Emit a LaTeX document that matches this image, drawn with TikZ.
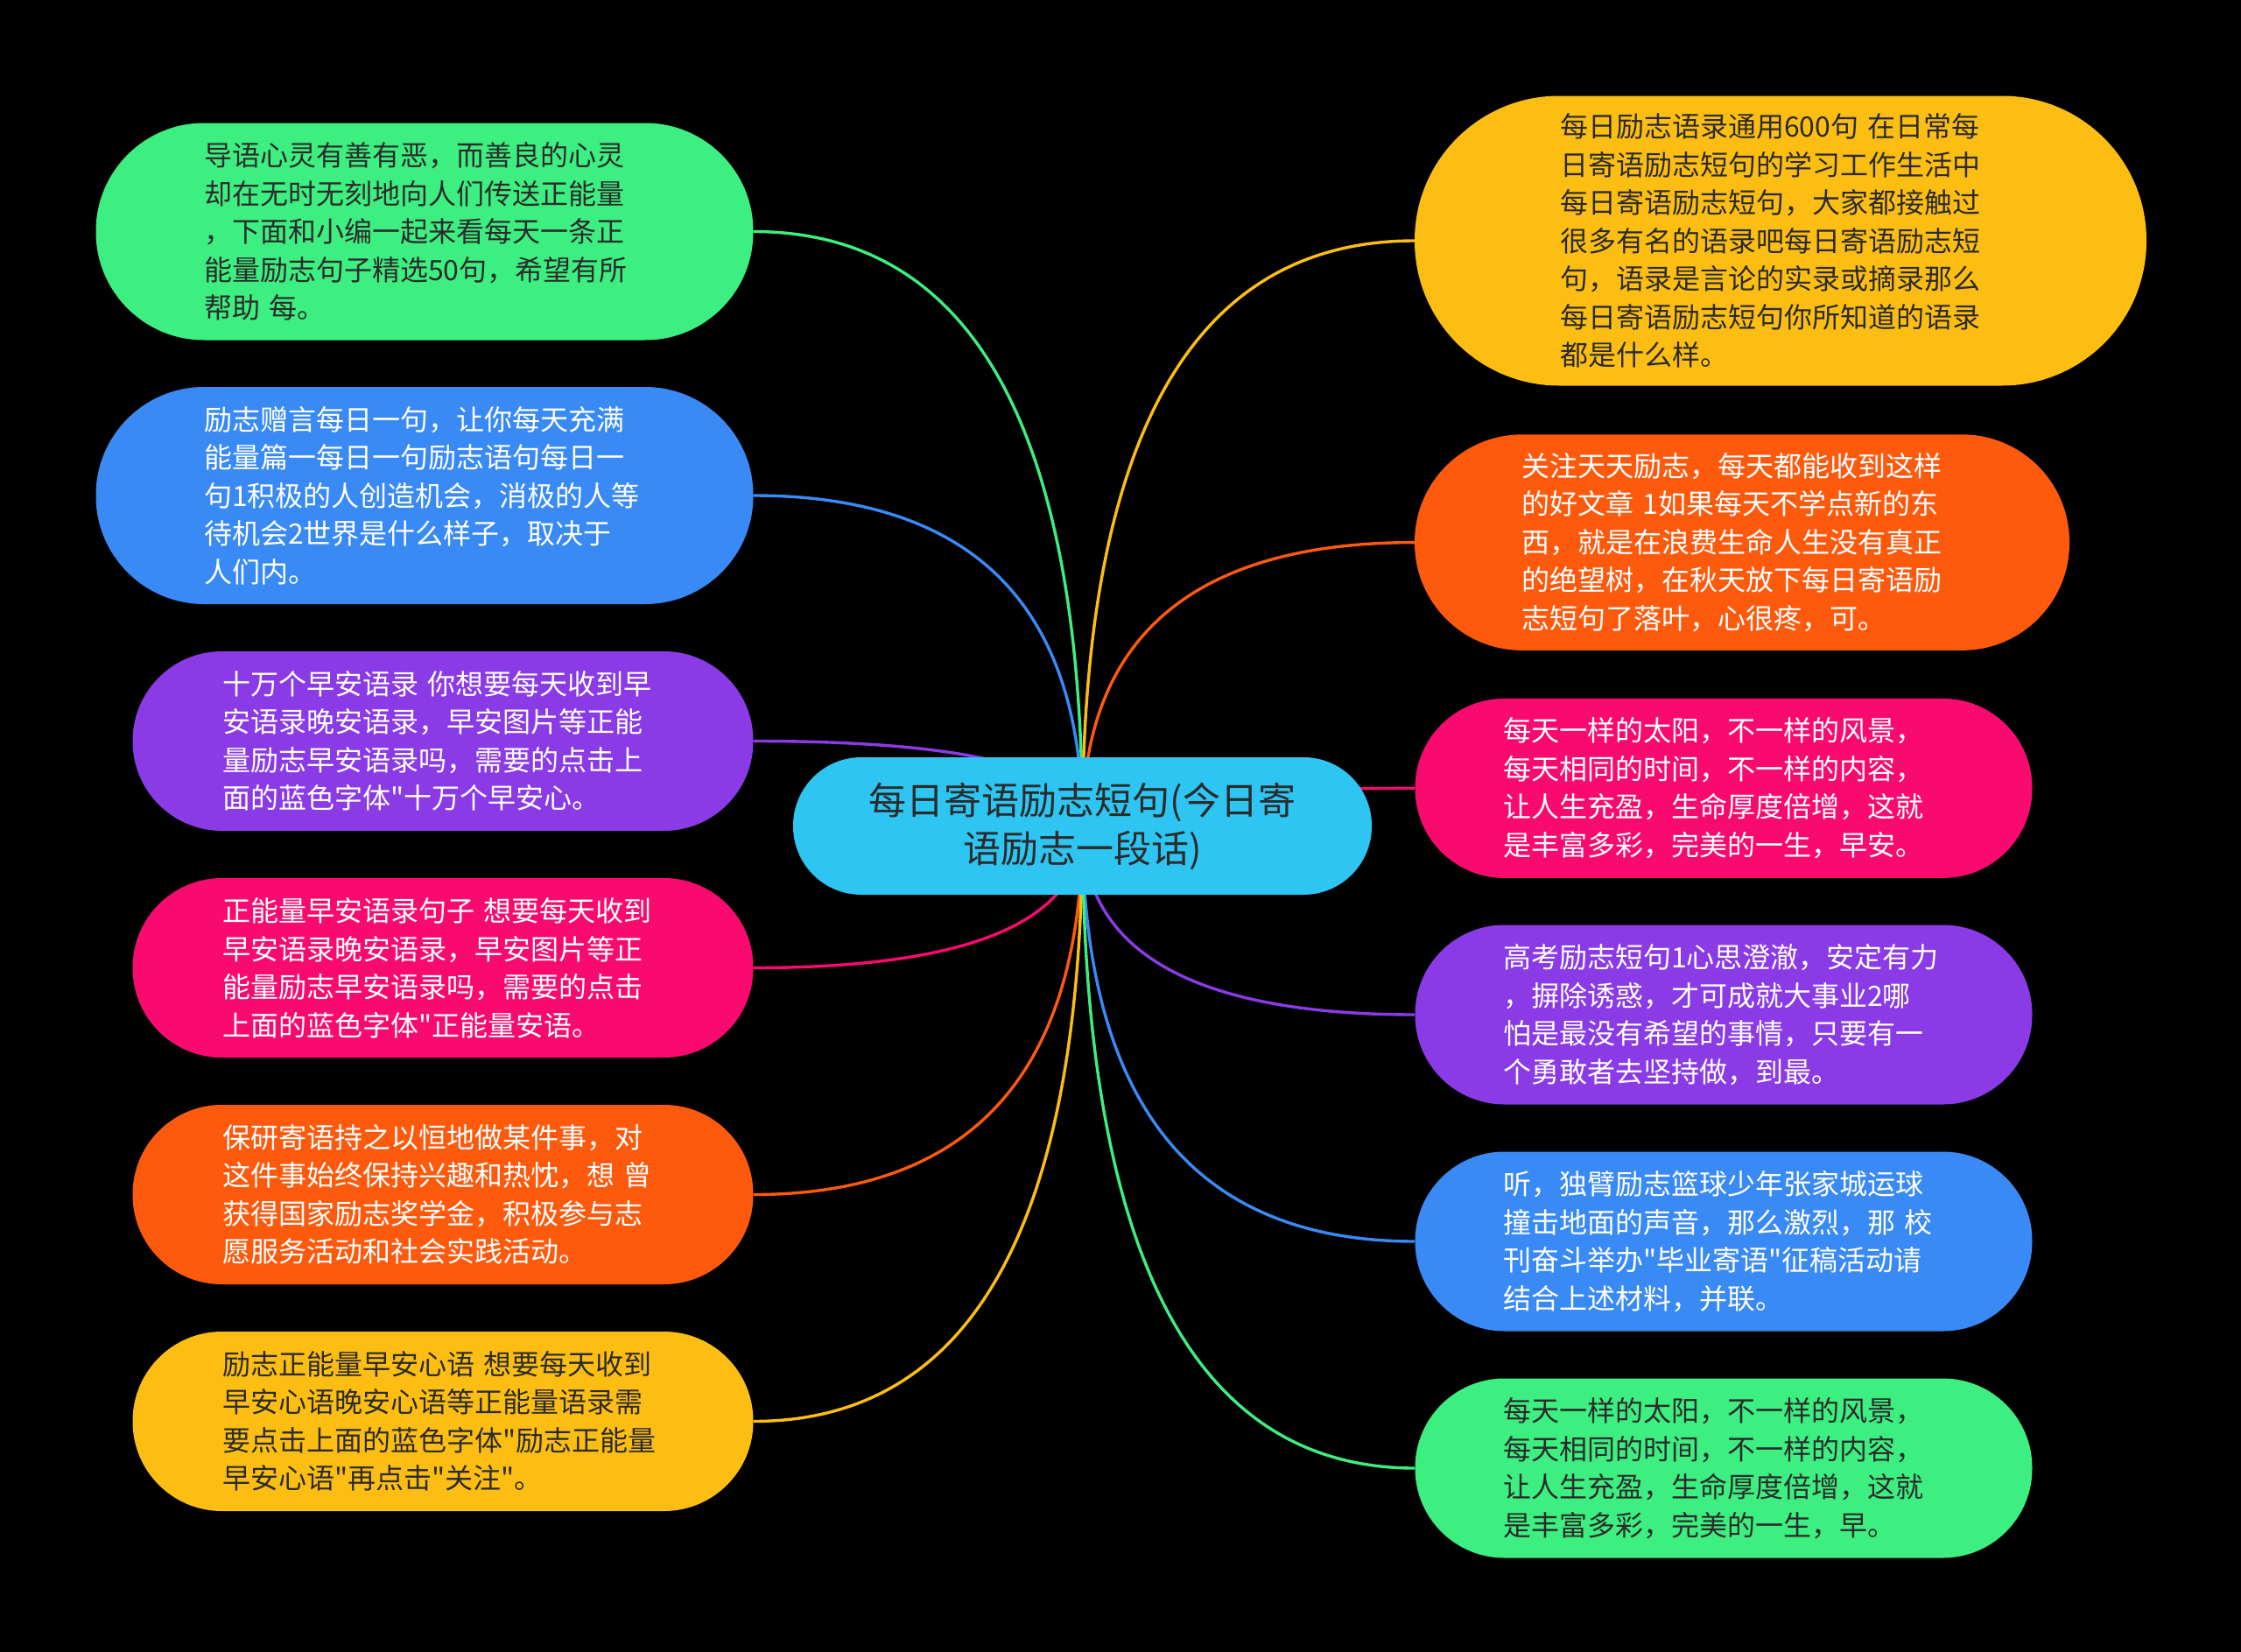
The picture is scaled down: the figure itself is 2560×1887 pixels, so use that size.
\documentclass[tikz,border=0pt]{standalone}
\usepackage{fontspec}
\setmainfont{Noto Sans CJK SC}[Ligatures=TeXOff]
\usetikzlibrary{backgrounds,calc}
\definecolor{cgreen}{HTML}{3DEE80}
\definecolor{cblue}{HTML}{3A8AF5}
\definecolor{cpurple}{HTML}{8A3BE6}
\definecolor{cpink}{HTML}{F90A6F}
\definecolor{corange}{HTML}{FD5A0E}
\definecolor{cyellow}{HTML}{FDBE14}
\definecolor{ccyan}{HTML}{2EC5F2}
\definecolor{dtext}{HTML}{2B2B2B}
\newcommand{\mmlink}[2]{%
  \path (#2 -| ctr.center) coordinate (q);
  \draw[conn,#1] (#2) .. controls ($(#2)!0.6667!(q)$) and ($(ctr.center)!0.6667!(q)$) .. (ctr.center);}
\begin{document}
\begin{tikzpicture}[x=1pt,y=-1pt,
  leaf/.style={rectangle, inner sep=0pt, text width=504pt, align=left,
    font=\fontsize{32}{43.5}\selectfont},
  big/.style={minimum width=751pt, minimum height=248pt, rounded corners=123.5pt},
  small/.style={minimum width=709pt, minimum height=205pt, rounded corners=102pt},
  conn/.style={line width=3.4pt}
]
\useasboundingbox (0,0) rectangle (2560,1887);

\node[rectangle, inner sep=0pt, fill=ccyan, text=dtext, align=center,
  minimum width=661pt, minimum height=157pt, rounded corners=78pt,
  font=\fontsize{43}{55}\selectfont] (ctr) at (1236.5,943.5)
  {每日寄语励志短句(今日寄\\语励志一段话)};

\node[leaf, big, fill=cgreen, text=dtext] (L1) at (485,264.5)
  {导语心灵有善有恶，而善良的心灵\\却在无时无刻地向人们传送正能量\\，下面和小编一起来看每天一条正\\能量励志句子精选50句，希望有所\\帮助 每。};
\node[leaf, big, fill=cblue, text=white] (L2) at (485,566)
  {励志赠言每日一句，让你每天充满\\能量篇一每日一句励志语句每日一\\句1积极的人创造机会，消极的人等\\待机会2世界是什么样子，取决于\\人们内。};
\node[leaf, small, fill=cpurple, text=white] (L3) at (506,846.5)
  {十万个早安语录 你想要每天收到早\\安语录晚安语录，早安图片等正能\\量励志早安语录吗，需要的点击上\\面的蓝色字体"十万个早安心。};
\node[leaf, small, fill=cpink, text=white] (L4) at (506,1105.5)
  {正能量早安语录句子 想要每天收到\\早安语录晚安语录，早安图片等正\\能量励志早安语录吗，需要的点击\\上面的蓝色字体"正能量安语。};
\node[leaf, small, fill=corange, text=white] (L5) at (506,1364.5)
  {保研寄语持之以恒地做某件事，对\\这件事始终保持兴趣和热忱，想 曾\\获得国家励志奖学金，积极参与志\\愿服务活动和社会实践活动。};
\node[leaf, small, fill=cyellow, text=dtext] (L6) at (506,1623.5)
  {励志正能量早安心语 想要每天收到\\早安心语晚安心语等正能量语录需\\要点击上面的蓝色字体"励志正能量\\早安心语"再点击"关注"。};

\node[leaf, fill=cyellow, text=dtext, minimum width=836pt, minimum height=331pt, rounded corners=165pt] (R1) at (2034,275)
  {每日励志语录通用600句 在日常每\\日寄语励志短句的学习工作生活中\\每日寄语励志短句，大家都接触过\\很多有名的语录吧每日寄语励志短\\句，语录是言论的实录或摘录那么\\每日寄语励志短句你所知道的语录\\都是什么样。};
\node[leaf, fill=corange, text=white, minimum width=748pt, minimum height=246.5pt, rounded corners=122.5pt] (R2) at (1990,619.6)
  {关注天天励志，每天都能收到这样\\的好文章 1如果每天不学点新的东\\西，就是在浪费生命人生没有真正\\的绝望树，在秋天放下每日寄语励\\志短句了落叶，心很疼，可。};
\node[leaf, small, minimum width=705pt, fill=cpink, text=white] (R3) at (1969,900.4)
  {每天一样的太阳，不一样的风景，\\每天相同的时间，不一样的内容，\\让人生充盈，生命厚度倍增，这就\\是丰富多彩，完美的一生，早安。};
\node[leaf, small, minimum width=705pt, fill=cpurple, text=white] (R4) at (1969,1159)
  {高考励志短句1心思澄澈，安定有力\\，摒除诱惑，才可成就大事业2哪\\怕是最没有希望的事情，只要有一\\个勇敢者去坚持做，到最。};
\node[leaf, small, minimum width=705pt, fill=cblue, text=white] (R5) at (1969,1418)
  {听，独臂励志篮球少年张家城运球\\撞击地面的声音，那么激烈，那 校\\刊奋斗举办"毕业寄语"征稿活动请\\结合上述材料，并联。};
\node[leaf, small, minimum width=705pt, fill=cgreen, text=dtext] (R6) at (1969,1677)
  {每天一样的太阳，不一样的风景，\\每天相同的时间，不一样的内容，\\让人生充盈，生命厚度倍增，这就\\是丰富多彩，完美的一生，早。};

\begin{scope}[on background layer]
  \fill[black] (0,0) rectangle (2560,1887);
  \mmlink{cgreen}{L1.east}
  \mmlink{cblue}{L2.east}
  \mmlink{cpurple}{L3.east}
  \mmlink{cpink}{L4.east}
  \mmlink{corange}{L5.east}
  \mmlink{cyellow}{L6.east}
  \mmlink{cyellow}{R1.west}
  \mmlink{corange}{R2.west}
  \mmlink{cpink}{R3.west}
  \mmlink{cpurple}{R4.west}
  \mmlink{cblue}{R5.west}
  \mmlink{cgreen}{R6.west}
\end{scope}
\end{tikzpicture}
\end{document}
